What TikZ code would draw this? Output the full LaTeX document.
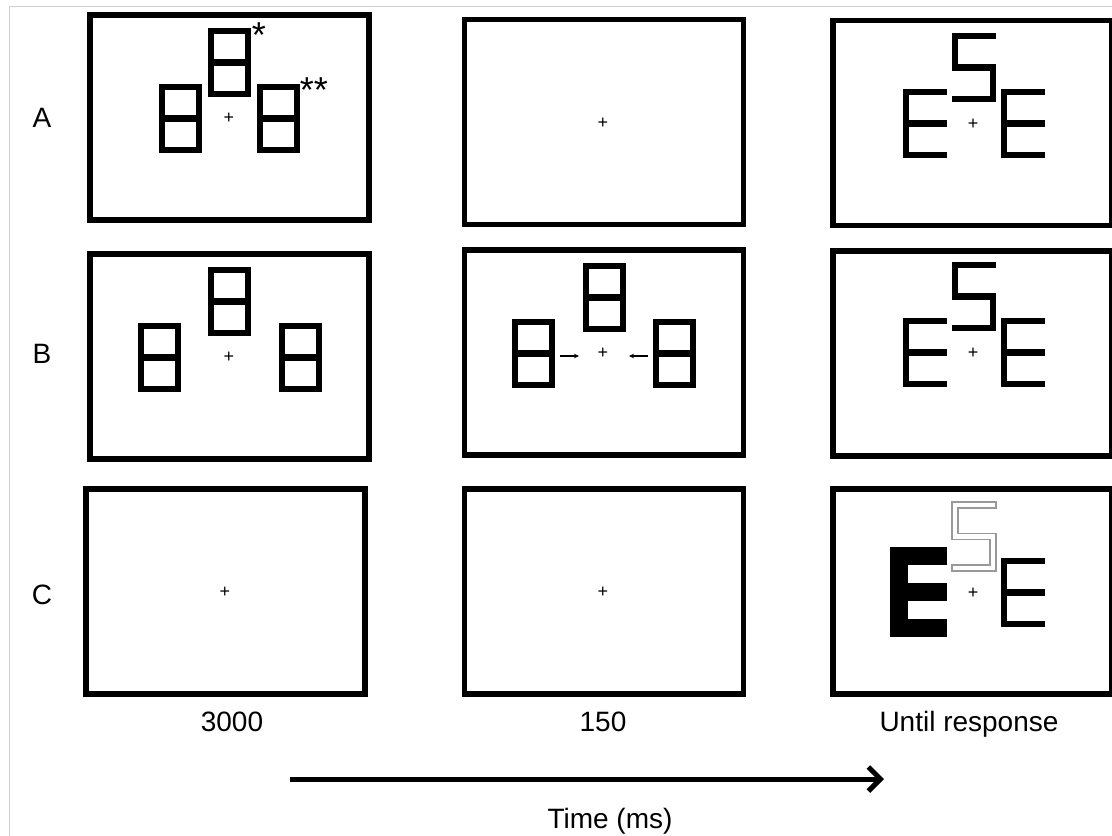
\documentclass[tikz,border=0pt]{standalone}
\usepackage{fontspec}
\setmainfont{Liberation Sans}
\usepackage{tikz}
\usetikzlibrary{arrows.meta}

\tikzset{
	screen/.style={draw, line width=5.5, minimum width=279, minimum height=205, inner sep=0},
	glyph/.style={line width=6.3, line join=miter, line cap=butt},
	ghost/.style={draw=black!40, line width=1.3, line join=miter},
	fix/.style={font=\fontsize{18}{20}\selectfont, inner sep=0},
	lbl/.style={font=\fontsize{28}{34}\selectfont, inner sep=0, anchor=base},
	starlbl/.style={font=\fontsize{36}{40}\selectfont, inner sep=0, anchor=north},
	pointer/.style={line width=1.2, -{Stealth[length=5pt,width=4.5pt]}},
	timeline/.style={line width=5, -{Straight Barb[length=12pt,width=24pt]}}
}
\newcommand{\eightbox}[2]{\draw [glyph, shift={(#1,#2)}] (3,3) rectangle (40,66) (3,34.5) -- (40,34.5);}
\newcommand{\thinE}[2]{\draw [glyph, shift={(#1,#2)}] (44,3) -- (3,3) -- (3,66) -- (44,66) (3,34.5) -- (44,34.5);}
\newcommand{\thinS}[2]{\draw [glyph, shift={(#1,#2)}] (44,3) -- (3,3) -- (3,34.5) -- (41,34.5) -- (41,66) -- (0,66);}

\begin{document}
\begin{tikzpicture}[x=1pt, y=-1pt]
	\useasboundingbox (0,0) rectangle (1112,836);
	\draw [black!18, line width=1] (9,836) -- (9,6) -- (1112,6);

	\node [screen] (A1) at (229.5,117.5) {};
	\node [screen] (A2) at (604,122) {};
	\node [screen] (A3) at (972.5,123) {};
	\node [screen] (B1) at (229.5,356.5) {};
	\node [screen] (B2) at (604,352.5) {};
	\node [screen] (B3) at (972.5,353.5) {};
	\node [screen] (C1) at (225.5,591.5) {};
	\node [screen] (C2) at (604,591.5) {};
	\node [screen] (C3) at (972.5,591.5) {};

	\node [fix] (fA1) at (229,118) {+};
	\node [fix] (fA2) at (603,123) {+};
	\node [fix] (fA3) at (973,124) {+};
	\node [fix] (fB1) at (229,357) {+};
	\node [fix] (fB2) at (603,353) {+};
	\node [fix] (fB3) at (973,353) {+};
	\node [fix] (fC1) at (225,592) {+};
	\node [fix] (fC2) at (603,592) {+};
	\node [fix] (fC3) at (973,593) {+};

	\eightbox{208}{28}
	\eightbox{159}{84}
	\eightbox{257}{84}
	\node [starlbl] (star1) at (259,23) {*};
	\node [starlbl] (star2) at (314,78) {**};

	\eightbox{208}{267}
	\eightbox{138}{323}
	\eightbox{279}{323}

	\eightbox{583}{263}
	\eightbox{512}{319}
	\eightbox{653}{319}
	\coordinate (pl0) at (560,356);
	\coordinate (pl1) at (579,356);
	\coordinate (pr0) at (648,356);
	\coordinate (pr1) at (629,356);
	\draw [pointer] (pl0) -- (pl1);
	\draw [pointer] (pr0) -- (pr1);

	\thinS{952}{33}
	\thinE{903}{89}
	\thinE{1001}{89}

	\thinS{952}{262}
	\thinE{903}{318}
	\thinE{1001}{318}

	\draw [glyph, line width=18, shift={(890,547)}] (57,9) -- (9,9) -- (9,81) -- (57,81) (9,45) -- (57,45);
	\draw [ghost, shift={(952,502)}] (0,0) -- (44,0) -- (44,6) -- (6,6) -- (6,31.5) -- (44,31.5) -- (44,69) -- (0,69) -- (0,63) -- (38,63) -- (38,37.5) -- (0,37.5) -- cycle;
	\thinE{1001}{558}

	\node [lbl] (rowA) at (42,127) {A};
	\node [lbl] (rowB) at (42,363) {B};
	\node [lbl] (rowC) at (42,604) {C};

	\node [lbl] (d1) at (232,731) {3000};
	\node [lbl] (d2) at (603,731) {150};
	\node [lbl] (d3) at (969,731) {Until response};

	\coordinate (t0) at (290,779);
	\coordinate (t1) at (884,779);
	\draw [timeline] (t0) -- (t1);
	\node [lbl] (time) at (610,828) {Time (ms)};
\end{tikzpicture}
\end{document}
